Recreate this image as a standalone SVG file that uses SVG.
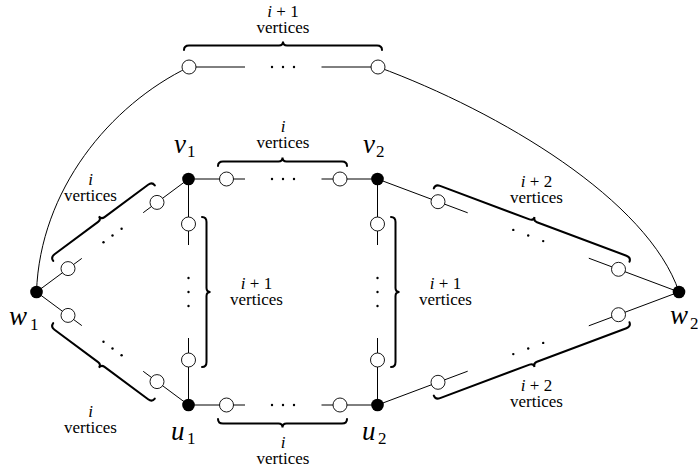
<svg xmlns="http://www.w3.org/2000/svg" width="698" height="469" viewBox="0 0 698 469">
<style>
.e{stroke:#000;stroke-width:1;fill:none}
.br{stroke:#000;stroke-width:2;fill:none;stroke-linecap:round}
.b{fill:#000}
.w{fill:#fff;stroke:#000;stroke-width:0.9}
.d{fill:#000}
.t{font-family:'Liberation Serif','DejaVu Serif',serif;font-size:17px;fill:#000;text-anchor:middle}
.it{font-style:italic}
.lab{font-family:'Liberation Serif','DejaVu Serif',serif;font-size:27px;font-style:italic;fill:#000}
.sub{font-family:'Liberation Serif','DejaVu Serif',serif;font-size:17px;fill:#000}
</style>
<rect width="698" height="469" fill="#fff"/>
<g id="connectors">
<path class="e" d="M189,67 C110,105 40,190 36.5,292"/>
<path class="e" d="M378,67 C500,112 648,200 679,292"/>
<path class="e" d="M189,67 L245,67 M321.5,67 L378,67"/>
<path class="e" d="M188.5,179 L245,179 M321.5,179 L377.5,179"/>
<path class="e" d="M188.5,405 L245,405 M321.5,405 L377.5,405"/>
<path class="e" d="M188.5,179 L188.5,245 M188.5,338 L188.5,405"/>
<path class="e" d="M377.5,179 L377.5,245 M377.5,338 L377.5,405"/>
<path class="e" d="M36.5,292 L81.8,258.4 M143.2,212.7 L188.5,179"/>
<path class="e" d="M36.5,292 L81.8,325.6 M143.2,371.3 L188.5,405"/>
<path class="e" d="M377.5,179 L467.7,212.8 M588.8,258.2 L679,292"/>
<path class="e" d="M377.5,405 L467.7,371.2 M588.8,325.8 L679,292"/>
</g>
<g id="dots">
<circle class="d" cx="272" cy="67" r="1.2"/><circle class="d" cx="283" cy="67" r="1.2"/><circle class="d" cx="294" cy="67" r="1.2"/>
<circle class="d" cx="272" cy="179" r="1.2"/><circle class="d" cx="283" cy="179" r="1.2"/><circle class="d" cx="294" cy="179" r="1.2"/>
<circle class="d" cx="272" cy="405" r="1.2"/><circle class="d" cx="283" cy="405" r="1.2"/><circle class="d" cx="294" cy="405" r="1.2"/>
<circle class="d" cx="188.5" cy="278" r="1.2"/><circle class="d" cx="188.5" cy="292" r="1.2"/><circle class="d" cx="188.5" cy="306" r="1.2"/>
<circle class="d" cx="377.5" cy="278" r="1.2"/><circle class="d" cx="377.5" cy="292" r="1.2"/><circle class="d" cx="377.5" cy="306" r="1.2"/>
<circle class="d" cx="103.5" cy="242.2" r="1.2"/><circle class="d" cx="112.5" cy="235.5" r="1.2"/><circle class="d" cx="121.6" cy="228.8" r="1.2"/>
<circle class="d" cx="103.5" cy="341.8" r="1.2"/><circle class="d" cx="112.5" cy="348.5" r="1.2"/><circle class="d" cx="121.6" cy="355.2" r="1.2"/>
<circle class="d" cx="513.3" cy="229.9" r="1.2"/><circle class="d" cx="528.2" cy="235.5" r="1.2"/><circle class="d" cx="543.2" cy="241.1" r="1.2"/>
<circle class="d" cx="513.3" cy="354.1" r="1.2"/><circle class="d" cx="528.2" cy="348.5" r="1.2"/><circle class="d" cx="543.2" cy="342.9" r="1.2"/>
</g>
<g id="braces">
<path class="br" transform="translate(184,50)" d="M0,0 Q0,-4.5 5,-4.5 L95,-4.5 Q99,-4.5 99,-8.5 Q99,-4.5 103,-4.5 L193,-4.5 Q198,-4.5 198,0"/>
<path class="br" transform="translate(218,166)" d="M0,0 Q0,-4.5 5,-4.5 L60.5,-4.5 Q64.5,-4.5 64.5,-8.5 Q64.5,-4.5 68.5,-4.5 L124,-4.5 Q129,-4.5 129,0"/>
<path class="br" transform="translate(347,419) rotate(180)" d="M0,0 Q0,-4.5 5,-4.5 L60.5,-4.5 Q64.5,-4.5 64.5,-8.5 Q64.5,-4.5 68.5,-4.5 L124,-4.5 Q129,-4.5 129,0"/>
<path class="br" transform="translate(202,217) rotate(90)" d="M0,0 Q0,-4.5 5,-4.5 L71,-4.5 Q75,-4.5 75,-8.5 Q75,-4.5 79,-4.5 L145,-4.5 Q150,-4.5 150,0"/>
<path class="br" transform="translate(391,217) rotate(90)" d="M0,0 Q0,-4.5 5,-4.5 L71,-4.5 Q75,-4.5 75,-8.5 Q75,-4.5 79,-4.5 L145,-4.5 Q150,-4.5 150,0"/>
<path class="br" transform="translate(53.2,260.9) rotate(-36.63)" d="M0,0 Q0,-4.5 5,-4.5 L59.3,-4.5 Q63.3,-4.5 63.3,-8.5 Q63.3,-4.5 67.3,-4.5 L121.6,-4.5 Q126.6,-4.5 126.6,0"/>
<path class="br" transform="matrix(1,0,0,-1,0,584) translate(53.2,260.9) rotate(-36.63)" d="M0,0 Q0,-4.5 5,-4.5 L59.3,-4.5 Q63.3,-4.5 63.3,-8.5 Q63.3,-4.5 67.3,-4.5 L121.6,-4.5 Q126.6,-4.5 126.6,0"/>
<path class="br" transform="translate(433.8,188.35) rotate(20.55)" d="M0,0 Q0,-4.5 5,-4.5 L100.5,-4.5 Q104.5,-4.5 104.5,-8.5 Q104.5,-4.5 108.5,-4.5 L204,-4.5 Q209,-4.5 209,0"/>
<path class="br" transform="matrix(1,0,0,-1,0,584) translate(433.8,188.35) rotate(20.55)" d="M0,0 Q0,-4.5 5,-4.5 L100.5,-4.5 Q104.5,-4.5 104.5,-8.5 Q104.5,-4.5 108.5,-4.5 L204,-4.5 Q209,-4.5 209,0"/>
</g>
<g id="brace-labels">
<text class="t"><tspan x="283" y="17"><tspan class="it">i</tspan> + 1</tspan><tspan x="283" y="33">vertices</tspan></text>
<text class="t"><tspan x="283" y="132" class="it">i</tspan><tspan x="283" y="148">vertices</tspan></text>
<text class="t"><tspan x="283" y="448" class="it">i</tspan><tspan x="283" y="464">vertices</tspan></text>
<text class="t"><tspan x="256.5" y="289"><tspan class="it">i</tspan> + 1</tspan><tspan x="256.5" y="305">vertices</tspan></text>
<text class="t"><tspan x="445.5" y="289"><tspan class="it">i</tspan> + 1</tspan><tspan x="445.5" y="305">vertices</tspan></text>
<text class="t"><tspan x="90.5" y="185" class="it">i</tspan><tspan x="90.5" y="201">vertices</tspan></text>
<text class="t"><tspan x="90.5" y="417" class="it">i</tspan><tspan x="90.5" y="433">vertices</tspan></text>
<text class="t"><tspan x="536.5" y="187"><tspan class="it">i</tspan> + 2</tspan><tspan x="536.5" y="203">vertices</tspan></text>
<text class="t"><tspan x="536.5" y="391"><tspan class="it">i</tspan> + 2</tspan><tspan x="536.5" y="407">vertices</tspan></text>
</g>
<g id="white-vertices">
<g id="w-top-1"><circle class="w" cx="189" cy="67" r="7"/></g>
<g id="w-top-2"><circle class="w" cx="378" cy="67" r="7"/></g>
<g id="w-v-1"><circle class="w" cx="226.5" cy="179" r="7"/></g>
<g id="w-v-2"><circle class="w" cx="340" cy="179" r="7"/></g>
<g id="w-u-1"><circle class="w" cx="226.5" cy="405" r="7"/></g>
<g id="w-u-2"><circle class="w" cx="340" cy="405" r="7"/></g>
<g id="w-l-1"><circle class="w" cx="188.5" cy="224" r="7"/></g>
<g id="w-l-2"><circle class="w" cx="188.5" cy="360" r="7"/></g>
<g id="w-r-1"><circle class="w" cx="377.5" cy="224" r="7"/></g>
<g id="w-r-2"><circle class="w" cx="377.5" cy="360" r="7"/></g>
<g id="w-ul-1"><circle class="w" cx="68" cy="268.6" r="7"/></g>
<g id="w-ul-2"><circle class="w" cx="157" cy="202.4" r="7"/></g>
<g id="w-ll-1"><circle class="w" cx="68" cy="315.4" r="7"/></g>
<g id="w-ll-2"><circle class="w" cx="157" cy="381.6" r="7"/></g>
<g id="w-ur-1"><circle class="w" cx="438" cy="201.7" r="7"/></g>
<g id="w-ur-2"><circle class="w" cx="618.5" cy="269.3" r="7"/></g>
<g id="w-lr-1"><circle class="w" cx="438" cy="382.3" r="7"/></g>
<g id="w-lr-2"><circle class="w" cx="618.5" cy="314.7" r="7"/></g>
</g>
<g id="black-vertices">
<g id="v1"><circle class="b" cx="188.5" cy="179" r="6.3"/><text class="lab" x="174" y="153">v</text><text class="sub" x="187" y="157">1</text></g>
<g id="v2"><circle class="b" cx="377.5" cy="179" r="6.3"/><text class="lab" x="363" y="153">v</text><text class="sub" x="376" y="157">2</text></g>
<g id="u1"><circle class="b" cx="188.5" cy="405" r="6.3"/><text class="lab" x="171" y="440">u</text><text class="sub" x="187" y="444">1</text></g>
<g id="u2"><circle class="b" cx="377.5" cy="405" r="6.3"/><text class="lab" x="362" y="440">u</text><text class="sub" x="378" y="444">2</text></g>
<g id="w1"><circle class="b" cx="36.5" cy="292" r="6.3"/><text class="lab" x="9" y="325">w</text><text class="sub" x="30" y="330">1</text></g>
<g id="w2"><circle class="b" cx="679" cy="292" r="6.3"/><text class="lab" x="670" y="324">w</text><text class="sub" x="690" y="329">2</text></g>
</g>
</svg>
